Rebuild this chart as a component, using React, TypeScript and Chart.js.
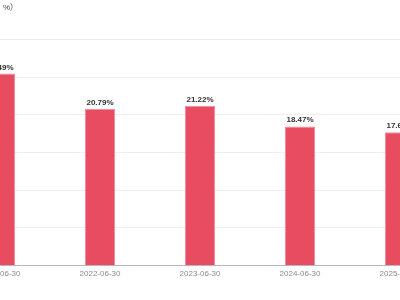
import React, { useEffect, useRef } from "react";
import { Chart, registerables } from "chart.js";

Chart.register(...registerables);

const categories = ["2021-06-30", "2022-06-30", "2023-06-30", "2024-06-30", "2025-06-30"];
const values = [25.49, 20.79, 21.22, 18.47, 17.69];
const yMin = 0;
const yMax = 30;
const yStep = 5;
const titleText = "净资产收益率（单位：%）";

const FONT = "'Liberation Sans', Arial, 'Noto Sans CJK SC', sans-serif";

const valueLabels = {
  id: "valueLabels",
  afterDatasetsDraw(chart: any) {
    const ctx = chart.ctx;
    const meta = chart.getDatasetMeta(0);
    ctx.save();
    ctx.font = `bold 8px ${FONT}`;
    ctx.fillStyle = "#333333";
    ctx.textAlign = "center";
    ctx.textBaseline = "alphabetic";
    meta.data.forEach((bar: any, i: number) => {
      ctx.fillText(values[i].toFixed(2) + "%", bar.x, bar.y - 4);
    });
    ctx.restore();
  },
};

export default function App() {
  const ref = useRef<HTMLCanvasElement | null>(null);
  useEffect(() => {
    if (!ref.current) return;
    const chart = new Chart(ref.current, {
      type: "bar",
      data: {
        labels: categories,
        datasets: [
          {
            data: values,
            backgroundColor: "#e84c61",
            borderColor: "#f38c9b",
            borderWidth: 1,
            barPercentage: 0.3,
            categoryPercentage: 1,
          },
        ],
      },
      options: {
        animation: false,
        responsive: false,
        maintainAspectRatio: false,
        layout: { padding: { left: 0, right: 0, top: 0, bottom: 17 } },
        plugins: {
          legend: { display: false },
          tooltip: { enabled: false },
          title: {
            display: true,
            text: titleText,
            align: "start",
            color: "#444444",
            font: { size: 8, family: FONT, weight: "normal" },
            padding: { top: 3, bottom: 27 },
          },
        },
        scales: {
          x: {
            grid: { display: false, drawTicks: false },
            border: { display: true, color: "#b8b8b8", width: 1 },
            ticks: {
              color: "#8c8c8c",
              font: { size: 8, family: FONT },
              padding: 4,
              maxRotation: 0,
              autoSkip: false,
            },
          },
          y: {
            min: yMin,
            max: yMax,
            afterFit: (axis: any) => {
              axis.width = 27;
            },
            grid: { color: "#efefef", drawTicks: false },
            border: { display: false },
            ticks: {
              stepSize: yStep,
              color: "#8c8c8c",
              font: { size: 8, family: FONT },
              padding: 6,
            },
          },
        },
      },
      plugins: [valueLabels],
    });
    return () => chart.destroy();
  }, []);

  return (
    <div
      style={{
        position: "fixed",
        left: 0,
        top: 0,
        width: 400,
        height: 300,
        overflow: "hidden",
        background: "#ffffff",
      }}
    >
      <div style={{ position: "absolute", left: -77, top: 0, width: 527, height: 300 }}>
        <canvas ref={ref} width={527} height={300} style={{ display: "block" }} />
      </div>
    </div>
  );
}
